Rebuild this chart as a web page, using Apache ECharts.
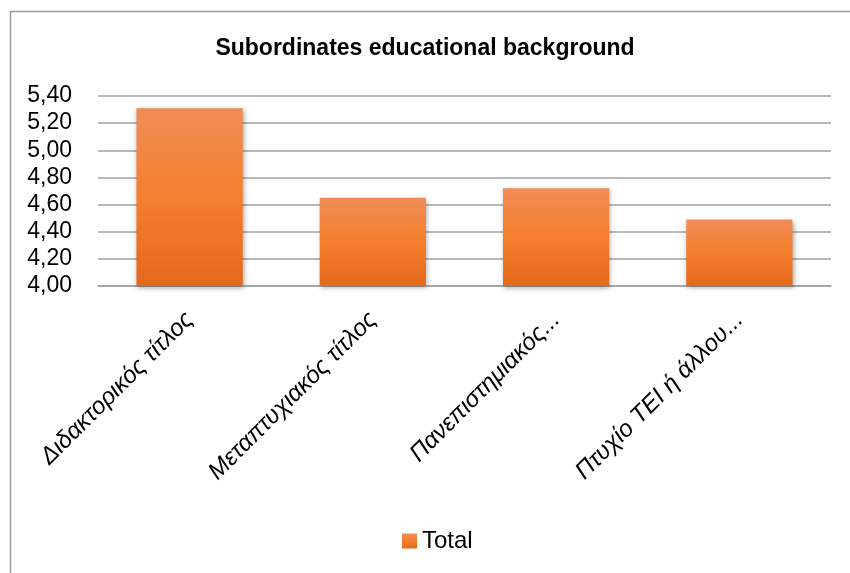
<!DOCTYPE html>
<html>
<head>
<meta charset="utf-8">
<script src="https://cdn.jsdelivr.net/npm/echarts@6/dist/echarts.min.js"></script>
<style>
  html, body { margin: 0; padding: 0; background: #fff; }
  #chart { width: 850px; height: 573px; }
</style>
</head>
<body>
<div id="chart"></div>
<script>
// Chart data
const categories = ['Διδακτορικός τίτλος', 'Μεταπτυχιακός τίτλος', 'Πανεπιστημιακός...', 'Πτυχίο TEI ή άλλου...'];
const totals = [5.31, 4.65, 4.72, 4.49];
const yTicks = [4.0, 5.4, 0.2]; // min, max, step
const seriesName = 'Total';
const chartTitle = 'Subordinates educational background';

const barFill = new echarts.graphic.LinearGradient(0, 0, 0, 1, [
  { offset: 0, color: '#F08D57' },
  { offset: 0.5, color: '#F47F2D' },
  { offset: 1, color: '#E4691A' }
]);

const chart = echarts.init(document.getElementById('chart'), null, { renderer: 'canvas' });
chart.setOption({
  animation: false,
  backgroundColor: '#ffffff',
  graphic: [{
    type: 'rect',
    left: 8, top: 9,
    shape: { width: 900, height: 700 },
    style: { fill: 'none', stroke: '#9a9a9a', lineWidth: 1.5 },
    silent: true
  }],
  title: {
    text: chartTitle,
    left: 'center',
    top: 32,
    textStyle: { fontFamily: 'Liberation Sans', fontWeight: 'bold', fontSize: 23, color: '#000' }
  },
  legend: {
    data: [seriesName],
    top: 524,
    left: 397,
    itemWidth: 15, itemHeight: 15,
    itemGap: 5,
    icon: 'rect',
    textStyle: { fontFamily: 'Liberation Sans', fontSize: 24, color: '#000' }
  },
  grid: { left: 98, right: 19, top: 96, bottom: 287, containLabel: false },
  xAxis: {
    type: 'category',
    data: categories,
    axisTick: { show: false },
    axisLine: { show: true, lineStyle: { color: '#a0a0a0', width: 1.5 } },
    axisLabel: {
      rotate: 45,
      interval: 0,
      margin: 30,
      fontFamily: 'Liberation Sans',
      fontStyle: 'italic',
      fontSize: 24,
      color: '#000'
    }
  },
  yAxis: {
    type: 'value',
    min: yTicks[0], max: yTicks[1], interval: yTicks[2],
    axisLine: { show: false },
    axisTick: { show: false },
    splitLine: { lineStyle: { color: '#a0a0a0', width: 1.5 } },
    axisLabel: {
      margin: 26,
      fontFamily: 'Liberation Sans',
      fontSize: 23,
      color: '#000',
      formatter: v => v.toFixed(2).replace('.', ',')
    }
  },
  series: [{
    name: seriesName,
    type: 'bar',
    data: totals,
    barWidth: '58%',
    itemStyle: {
      color: barFill,
      shadowColor: 'rgba(0,0,0,0.35)',
      shadowBlur: 5,
      shadowOffsetX: 1,
      shadowOffsetY: 2
    }
  }]
});
</script>
</body>
</html>
